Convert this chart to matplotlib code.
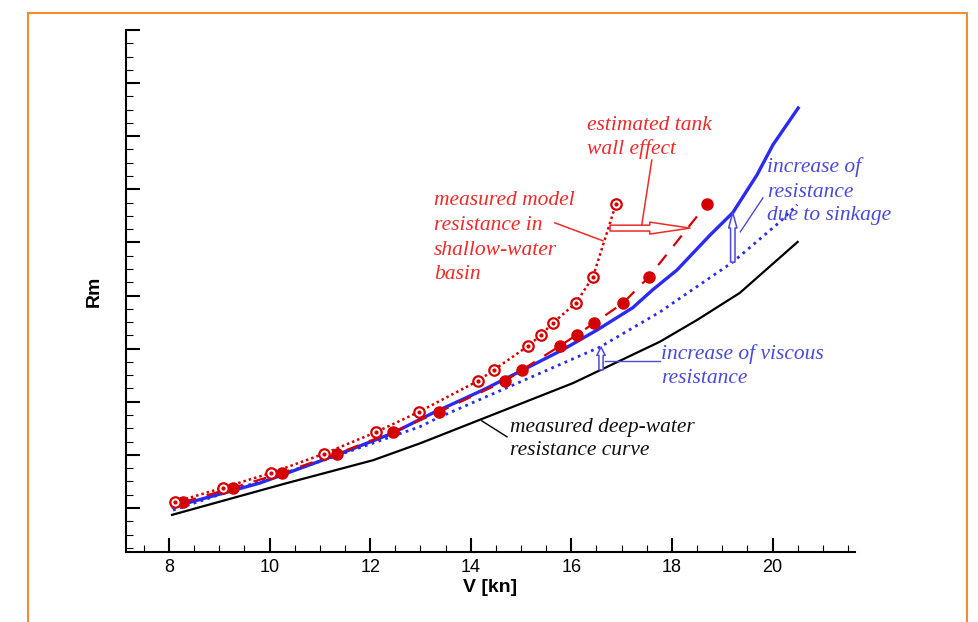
import numpy as np
import matplotlib
matplotlib.use("Agg")
import matplotlib.pyplot as plt
from matplotlib.patches import FancyArrowPatch, Rectangle

# speeds [kn] and model resistance (arbitrary units)
v_shallow = [8.12, 9.07, 10.03, 11.08, 12.12, 12.97, 14.14, 14.46, 15.14, 15.40, 15.63, 16.09, 16.43, 16.89]
v_corrected = [8.28, 9.27, 10.25, 11.34, 12.45, 13.37, 14.68, 15.02, 15.77, 16.11, 16.45, 17.03, 17.54, 18.70]
rm_shallow = [1.11, 1.38, 1.66, 2.02, 2.43, 2.81, 3.39, 3.60, 4.05, 4.26, 4.48, 4.86, 5.35, 6.73]

v_pred = [8.08, 9.81, 11.34, 12.45, 13.25, 14.24, 15.04, 15.83, 16.51, 17.22, 17.62, 18.10, 18.76, 19.21, 19.69, 20.01, 20.51]
rm_pred = [1.02, 1.47, 2.00, 2.41, 2.79, 3.22, 3.60, 3.98, 4.35, 4.77, 5.11, 5.48, 6.14, 6.56, 7.27, 7.84, 8.53]

v_visc = [8.08, 11.14, 12.99, 13.33, 16.57, 17.76, 19.21, 20.15, 20.49]
rm_visc = [0.96, 1.92, 2.53, 2.69, 4.03, 4.69, 5.63, 6.39, 6.71]

v_deep = [8.06, 10.35, 12.06, 13.00, 14.18, 16.03, 17.76, 18.50, 19.35, 20.50]
rm_deep = [0.87, 1.47, 1.90, 2.22, 2.66, 3.35, 4.13, 4.54, 5.05, 6.01]

red = "#d40000"
red_txt = "#ee2a2a"
blue = "#2a2af2"
blue_txt = "#4a4ad8"

fig = plt.figure(figsize=(9.79, 6.22), dpi=100)
ax = fig.add_axes([126 / 979, 70 / 622, 729 / 979, 522 / 622])

# orange frame around the picture
fig.patches.append(Rectangle((28 / 979, -0.1), 939 / 979, 1.1 - 13 / 622, transform=fig.transFigure,
                             fill=False, edgecolor="#f28c2e", linewidth=1.5, clip_on=False))

ax.plot(v_deep, rm_deep, color="black", lw=1.6, solid_joinstyle="miter")
ax.plot(v_visc, rm_visc, color=blue, lw=2.0, linestyle=(0, (1, 1.6)))
ax.plot(v_pred, rm_pred, color=blue, lw=2.4)
ax.plot(v_corrected, rm_shallow, color=red, lw=1.6, linestyle=(0, (6, 5)),
        marker="o", markersize=8, markerfacecolor=red, markeredgecolor=red)
ax.plot(v_shallow, rm_shallow, color=red, lw=1.8, linestyle=(0, (1, 1.2)),
        marker="o", markersize=7.5, markerfacecolor="white", markeredgecolor=red, markeredgewidth=1.6)
ax.plot(v_shallow, rm_shallow, linestyle="none", marker="o", markersize=2, color=red)

# axes styling
ax.set_xlim(7.145, 21.64)
ax.set_ylim(0.171, 10.0)
ax.spines["top"].set_visible(False)
ax.spines["right"].set_visible(False)
for s in ("left", "bottom"):
    ax.spines[s].set_linewidth(1.5)
ax.set_xticks(np.arange(8, 21, 2))
ax.set_xticks(np.arange(7.5, 21.6, 0.5), minor=True)
ax.set_yticks(np.arange(1, 10.1, 1))
ax.set_yticks(np.arange(0.25, 10.0, 0.25), minor=True)
ax.tick_params(which="major", direction="in", length=10, width=1.5, labelsize=13, pad=5)
ax.tick_params(which="minor", direction="in", length=5, width=0.8)
ax.tick_params(axis="y", labelleft=False)
for lab in ax.get_xticklabels():
    lab.set_fontfamily("Liberation Sans")
ax.set_xlabel("V [kn]", fontsize=14, fontweight="bold", family="Liberation Sans", labelpad=2)
ax.set_ylabel("Rm", fontsize=14, fontweight="bold", family="Liberation Sans", labelpad=13)

# annotations
tfont = dict(family="Liberation Serif", style="italic", fontsize=15.5, va="baseline", ha="left")
for txt, y in [("estimated tank", 8.12), ("wall effect", 7.67)]:
    ax.text(16.31, y, txt, color=red_txt, **tfont)
for txt, y in [("measured model", 6.71), ("resistance in", 6.24), ("shallow-water", 5.77), ("basin", 5.31)]:
    ax.text(13.27, y, txt, color=red_txt, **tfont)
for txt, y in [("increase of", 7.33), ("resistance", 6.86), ("due to sinkage", 6.42)]:
    ax.text(19.89, y, txt, color=blue_txt, **tfont)
for txt, y in [("increase of viscous", 3.81), ("resistance", 3.35)]:
    ax.text(17.78, y, txt, color=blue_txt, **tfont)
for txt, y in [("measured deep-water", 2.43), ("resistance curve", 2.00)]:
    ax.text(14.78, y, txt, color="#111111", **tfont)

# leader lines
ax.plot([17.60, 17.40], [7.55, 6.33], color=red_txt, lw=1.1)
ax.plot([15.67, 16.63], [6.37, 6.03], color=red_txt, lw=1.1)
ax.plot([19.81, 19.36], [6.84, 6.20], color=blue_txt, lw=1.0)
ax.plot([16.67, 17.76], [3.77, 3.77], color=blue_txt, lw=1.0)
ax.plot([14.22, 14.72], [2.64, 2.34], color="black", lw=1.0)

# hollow block arrows
def hollow_arrow(p0, p1, color, hl, hw, tw):
    ax.add_patch(FancyArrowPatch(p0, p1, arrowstyle=f"simple,head_length={hl},head_width={hw},tail_width={tw}",
                                 mutation_scale=10, facecolor="white", edgecolor=color, lw=1.1,
                                 shrinkA=0, shrinkB=0, zorder=5))

hollow_arrow((16.77, 6.27), (18.36, 6.27), red_txt, 2.9, 0.86, 0.42)
hollow_arrow((19.21, 5.63), (19.21, 6.56), blue_txt, 1.1, 0.6, 0.32)
hollow_arrow((16.59, 3.60), (16.59, 4.03), blue_txt, 0.6, 0.6, 0.3)

fig.savefig("out.png", dpi=100)
